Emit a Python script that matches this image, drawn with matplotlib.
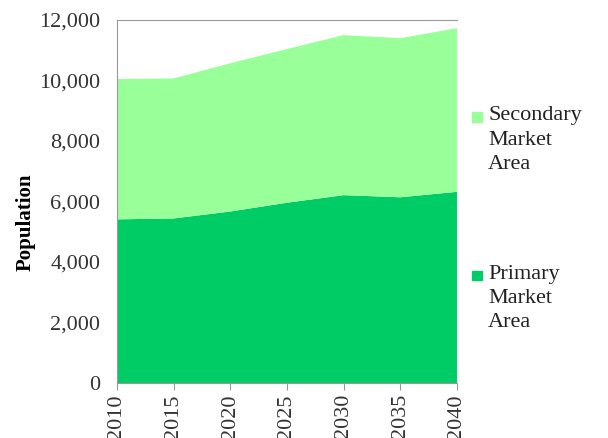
import matplotlib
matplotlib.use("Agg")
import matplotlib.pyplot as plt
from matplotlib.patches import Rectangle

years = [2010, 2015, 2020, 2025, 2030, 2035, 2040]
primary = [5410, 5440, 5670, 5960, 6210, 6140, 6320]
secondary_total = [10050, 10070, 10570, 11040, 11500, 11400, 11730]
secondary = [t - p for t, p in zip(secondary_total, primary)]
yticks = [0, 2000, 4000, 6000, 8000, 10000, 12000]
labels = ["Primary\nMarket\nArea", "Secondary\nMarket\nArea"]
colors = ["#00CC66", "#99FF99"]

plt.rcParams['font.family'] = ['Liberation Serif', 'DejaVu Serif']

fig = plt.figure(figsize=(6.08, 4.38), dpi=100)
ax = fig.add_axes([0.1924, 0.1256, 0.5592, 0.8287])
ax.stackplot(years, primary, secondary, colors=colors, linewidth=0)
ax.set_xlim(2010, 2040)
ax.set_ylim(0, 12000)
ax.set_xticks(years)
ax.set_xticklabels([str(y) for y in years], rotation=90, fontsize=16, color='#333333')
ax.set_yticks(yticks)
ax.set_yticklabels([f"{v:,}" for v in yticks], fontsize=16, color='#333333')
ax.tick_params(axis='y', length=0, pad=12)
ax.tick_params(axis='x', length=5, color='#999999', pad=3)
for s in ['left', 'bottom', 'top']:
    ax.spines[s].set_color('#999999')
ax.spines['right'].set_visible(False)
ax.set_ylabel("Population", fontsize=15, fontweight='bold')
ax.yaxis.set_label_coords(-0.24, 0.444)

# legend (manual layout: marker aligned to first text line)
leg_items = [(labels[1], colors[1], 0.733), (labels[0], colors[0], 0.372)]
for text, col, ycen in leg_items:
    fig.patches.append(Rectangle((0.777, ycen - 0.0105), 0.015, 0.0207,
                                 transform=fig.transFigure, color=col))
    fig.text(0.803, ycen + 0.024, text, fontsize=16, va='top', ha='left',
             linespacing=1.38, color='#222222', transform=fig.transFigure)

fig.savefig("out.png", dpi=100)
